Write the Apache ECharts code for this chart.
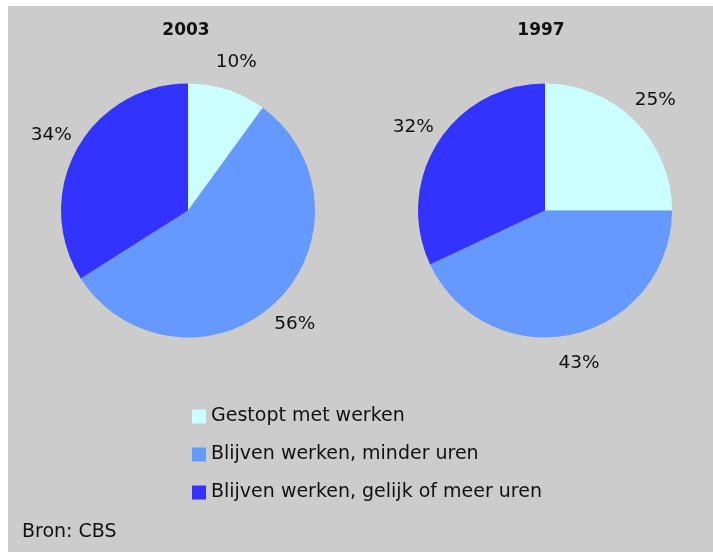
<!DOCTYPE html>
<html><head><meta charset="utf-8">
<script src="https://cdn.jsdelivr.net/npm/echarts@6/dist/echarts.min.js"></script>
<style>html,body{margin:0;padding:0;background:#fff;} #c{position:absolute;left:8px;top:6px;width:705px;height:546px;}</style>
</head><body><div id="c"></div>
<script>
const categories = ['Gestopt met werken', 'Blijven werken, minder uren', 'Blijven werken, gelijk of meer uren'];
const years = ['2003', '1997'];
const values2003 = [10, 56, 34];
const values1997 = [25, 43, 32];
const source = 'Bron: CBS';

const colors = ['#ccffff', '#6699ff', '#3333ff'];
const FONT = 'DejaVu Sans';

function pieSeries(name, vals, cx) {
  return {
    type: 'pie', name: name, center: [cx, 204.5], radius: 127,
    startAngle: 90, clockwise: true, avoidLabelOverlap: false, silent: true,
    animation: false,
    data: categories.map((c, i) => ({ name: c, value: vals[i] })),
    label: { show: true, position: 'outside', formatter: '{c}%', color: '#111',
      fontFamily: FONT, fontSize: 18.5, distanceToLabelLine: 0 },
    labelLine: { show: false, length: 29, length2: 0 },
    labelLayout: function () { return { align: 'center' }; },
    emphasis: { disabled: true }
  };
}

const chart = echarts.init(document.getElementById('c'));
chart.setOption({
  backgroundColor: '#cccccc',
  animation: false,
  color: colors,
  legend: {
    orient: 'vertical', left: 184, top: 401, padding: 0, itemWidth: 14, itemHeight: 14, itemGap: 19,
    icon: 'rect', selectedMode: false, data: categories,
    textStyle: { fontFamily: FONT, fontSize: 19, color: '#111', lineHeight: 19 }
  },
  graphic: [
    { type: 'text', x: 178, y: 25, style: { text: years[0], align: 'center', verticalAlign: 'middle',
      font: 'bold 17px "DejaVu Sans"', fill: '#111' } },
    { type: 'text', x: 533, y: 25, style: { text: years[1], align: 'center', verticalAlign: 'middle',
      font: 'bold 17px "DejaVu Sans"', fill: '#111' } },
    { type: 'text', x: 14, y: 526, style: { text: source, align: 'left', verticalAlign: 'middle',
      font: '19px "DejaVu Sans"', fill: '#111' } }
  ],
  series: [
    pieSeries(years[0], values2003, 180),
    pieSeries(years[1], values1997, 537)
  ]
});
</script></body></html>
